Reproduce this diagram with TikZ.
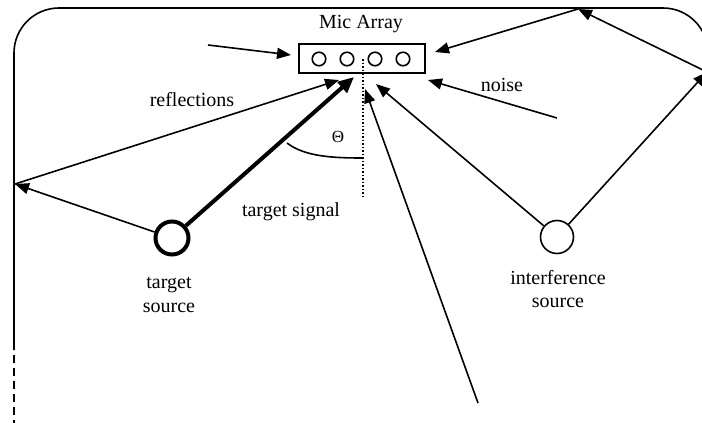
\documentclass[tikz,border=0pt]{standalone}
\usepackage{fontspec}
\setmainfont{Liberation Serif}
\usetikzlibrary{arrows.meta}
\begin{document}
\begin{tikzpicture}[x=1pt,y=-1pt,
  wire/.style={line width=1.6pt},
  arr/.style={wire,-{Triangle[length=14pt,width=11pt]}},
  thickarr/.style={line width=4pt,-{Triangle[length=16pt,width=14pt]}},
  lbl/.style={font=\fontsize{20}{23.5}\selectfont, align=center, inner sep=0pt},
  mic/.style={circle,draw,line width=1.6pt,minimum size=13.5pt,inner sep=0pt},
  src/.style={circle,draw,minimum size=33pt,inner sep=0pt}]
\useasboundingbox (0,0) rectangle (702,423);
\clip (0,0) rectangle (702,423);
% room walls
\draw[wire,rounded corners=45pt] (14,350) -- (14,8) -- (708,8) -- (708,300);
\draw[wire,dash pattern=on 8pt off 5pt] (14,355) -- (14,423);
% mic array
\node[draw,line width=1.8pt,minimum width=126pt,minimum height=29pt,inner sep=0pt] (box) at (362,58.5) {};
\node[mic] (m1) at (319,59) {};
\node[mic] (m2) at (347,59) {};
\node[mic] (m3) at (375,59) {};
\node[mic] (m4) at (403,59) {};
\node[lbl] (title) at (361,24) {Mic Array};
\coordinate (dtop) at (363,59);
\coordinate (dbot) at (363,197);
\draw[line width=1.5pt,dash pattern=on 1.5pt off 2pt] (dtop) -- (dbot);
% sources
\node[src,line width=4pt] (ts) at (172,238) {};
\node[src,line width=1.6pt] (is) at (557,237) {};
\node[lbl] (tslbl) at (169,295) {target\\source};
\node[lbl] (islbl) at (558,289) {interference\\source};
% other labels
\node[lbl] (sig) at (291,212) {target signal};
\node[lbl] (refl) at (192,100) {reflections};
\node[lbl] (noise) at (502,85) {noise};
\node[font=\fontsize{17}{20}\selectfont,inner sep=0pt] (theta) at (338,137) {Θ};
% angle
\coordinate (a1) at (287,143);
\coordinate (a2) at (363,158);
\draw[wire] (a1) .. controls (305,157) and (335,158) .. (a2);
% coordinates
\coordinate (wallL) at (15,184);
\coordinate (topW) at (578,9);
\coordinate (rightW) at (707,72);
\coordinate (lstart) at (208,45);
\coordinate (bstart) at (478,403);
\coordinate (nstart) at (557,118);
\coordinate (tipLeft) at (291,55);
\coordinate (tipRefl) at (339,80);
\coordinate (tipTarget) at (354,77);
\coordinate (tipBottom) at (365,89);
\coordinate (tipInterf) at (376,84);
\coordinate (tipNoise) at (428,80);
\coordinate (tipTop) at (435,52);
% arrows
\draw[arr] (lstart) -- (tipLeft);
\draw[arr] (ts) -- (wallL);
\draw[arr] (wallL) -- (tipRefl);
\draw[thickarr] (ts) -- (tipTarget);
\draw[arr] (bstart) -- (tipBottom);
\draw[arr] (is) -- (tipInterf);
\draw[arr] (nstart) -- (tipNoise);
\draw[arr] (is) -- (rightW);
\draw[arr] (rightW) -- (topW);
\draw[arr] (topW) -- (tipTop);
\end{tikzpicture}
\end{document}
